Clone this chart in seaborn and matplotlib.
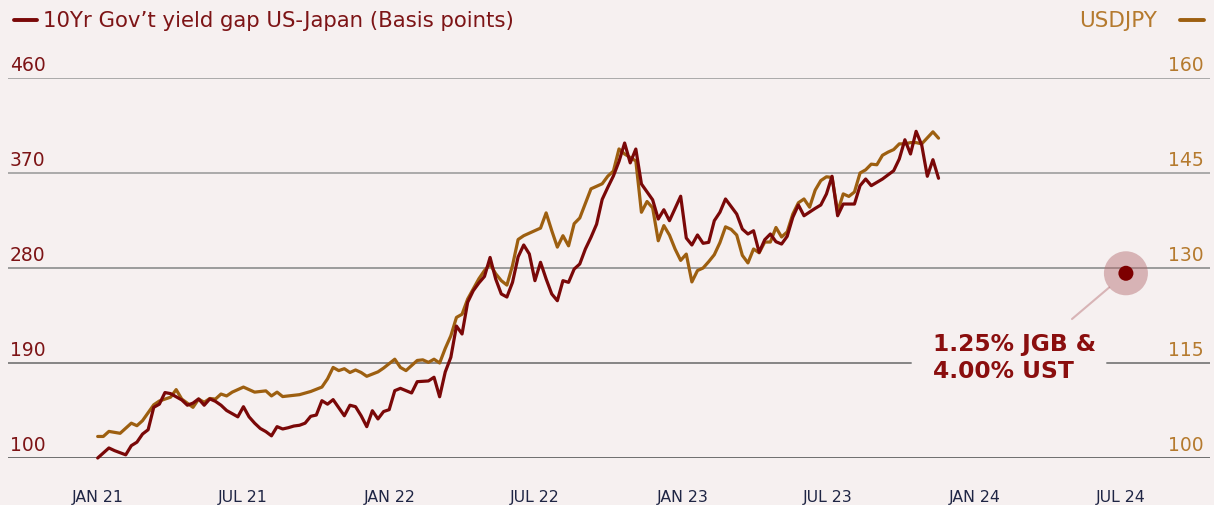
import numpy as np
import pandas as pd
import matplotlib
matplotlib.use("Agg")
import matplotlib.pyplot as plt
from matplotlib.lines import Line2D
from matplotlib.transforms import blended_transform_factory
import seaborn as sns

# ---- data -------------------------------------------------------------
# weekly observations (Fridays), Jan 2021 - Nov 2023; None = no reading
week_dates = pd.date_range("2021-01-01", periods=151, freq="7D")

yield_gap = [
    100, None, 109.5, 107, None, 103, 111.7, 115, 122.7, 126.8,
    148, 151, 162, 161, 158, 155, 150, 152, 156, 150,
    156, 153.7, 150, 145, None, 139, 148.6, 139, 133, 128,
    125, 121, 129.7, 127.5, 128.7, 130.3, 131, 133, 139.5, 140.7,
    154.3, 151, 155.3, 147.7, 140, 150, 148.6, 140, 129.7, 144.8,
    137, 144, 145.8, 163.8, 166, None, 161.6, 172.3, None, 173,
    176.5, 158, 181.5, 195.4, 225, 217.5, 247.5, 258.5, 265.8, 272,
    290, 269.6, 255.4, 252.5, 266.4, 290.5, 301.8, 293.3, 268, 285.4,
    269.6, 255.4, 249, 268, 266.4, 279, 283.8, 298, 309.1, 321.5,
    345, 356.4, 367.2, 381, 398.4, 379.6, 392.7, 359.6, None, 344.6,
    326.4, 335.2, 324.8, None, 348, 308.4, 301.8, 311.3, 303.4, 304.3,
    324.8, 332.8, 345.4, None, 331.1, 316.9, 312.2, 315.3, 294.9, 306.8,
    312.2, 304.9, 302.7, 310, 328, 339.7, 329.5, None, 336.5, 339.7,
    350.1, 366.9, 329.5, 340.6, None, 340.6, 358, 364.3, 358, None,
    364.3, None, 372.2, 383.3, 401.5, 388, 409.5, 396.5, 366.9, 382.6, 365,
]

usdjpy = [
    103.4, 103.4, 104.2, None, 103.9, None, 105.5, 105.1, 105.9, None,
    108.4, 109, None, 109.6, 110.8, 109.3, None, 108, 109.3, 108.8,
    109.4, 109.3, 110.1, 109.8, 110.4, None, 111.2, None, 110.4, None,
    110.6, 109.8, 110.4, 109.7, 109.8, None, 110, None, 110.5, None,
    111.2, 112.5, 114.3, 113.8, 114.1, 113.5, 113.9, 113.5, 112.9, None,
    113.6, 114.2, None, 115.6, 114.3, 113.8, None, 115.4, 115.5, 115.1,
    115.6, 115, 117.3, 119.3, 122.2, 122.7, 125.1, 126.7, 128.3, 129.6,
    130.6, 129.1, 128, 127.3, 130.4, 134.5, 135.1, 135.5, None, 136.3,
    138.7, 135.9, 133.3, 135.1, 133.5, 137, 137.9, None, 142.5, None,
    143.3, 144.5, 145.3, 148.8, 148, None, 146.9, 138.8, 140.5, 139.5,
    134.3, 136.7, 135.2, 133, 131.2, 132.2, 127.8, 129.6, 130, 131,
    132.1, 134, 136.5, 136.1, 135.2, 132, 130.8, 133, 132.4, 134.1,
    134.1, 136.4, 134.9, 135.7, 138.5, 140.3, 140.9, 139.6, 142.3, 143.8,
    144.4, 144.3, 138.9, 141.7, 141.3, 142, 145, 145.5, 146.4, 146.3,
    147.8, 148.3, 148.7, 149.6, 149.6, 149.8, 149.8, 149.6, None, 151.5, 150.5,
]

gap_ticks = [100, 190, 280, 370, 460]
jpy_ticks = [100, 115, 130, 145, 160]
month_ticks = ["2021-01-01", "2021-07-01", "2022-01-01", "2022-07-01",
               "2023-01-01", "2023-07-01", "2024-01-01", "2024-07-01"]
month_labels = ["JAN 21", "JUL 21", "JAN 22", "JUL 22",
                "JAN 23", "JUL 23", "JAN 24", "JUL 24"]

# highlighted scenario: JGB vs UST 10yr yields
marker_date = "2024-07-08"
jgb_yield = 1.25
ust_yield = 4.00
marker_gap = (ust_yield - jgb_yield) * 100

# ---- style ------------------------------------------------------------
BG = "#f6f0f0"
RED = "#7a0808"
ORANGE = "#9d5f10"
RED_TEXT = "#7d1416"
ORANGE_TEXT = "#b57a2e"
NAVY = "#1f2544"

sns.set_theme(style="white")
plt.rcParams["font.family"] = ["DejaVu Sans"]

W, H = 1214, 506
fig = plt.figure(figsize=(W / 100, H / 100), dpi=100, facecolor=BG)
ax_jpy = fig.add_axes([8 / W, 47 / H, 1202 / W, 380 / H])
ax_jpy.set_facecolor(BG)
ax_gap = ax_jpy.twinx()

df = pd.DataFrame({
    "date": week_dates,
    "gap": pd.Series(yield_gap, dtype=float),
    "jpy": pd.Series(usdjpy, dtype=float),
})

sns.lineplot(data=df.dropna(subset=["jpy"]), x="date", y="jpy", ax=ax_jpy,
             color=ORANGE, linewidth=2.3, errorbar=None, clip_on=False, zorder=3)
sns.lineplot(data=df.dropna(subset=["gap"]), x="date", y="gap", ax=ax_gap,
             color=RED, linewidth=2.3, errorbar=None, clip_on=False, zorder=3)

ax_jpy.set_ylim(100, 160)
ax_gap.set_ylim(100, 460)
ax_jpy.set_xlim(pd.Timestamp("2020-09-11"), pd.Timestamp("2024-10-21"))

for a in (ax_jpy, ax_gap):
    a.set_xlabel("")
    a.set_ylabel("")
    a.set_yticks([])
    for s in a.spines.values():
        s.set_visible(False)

ax_jpy.set_xticks(pd.to_datetime(month_ticks))
ax_jpy.set_xticklabels(month_labels, fontsize=11.3, color=NAVY)
ax_jpy.tick_params(axis="x", length=0, pad=22)

# horizontal guides
grid_colors = {160: "#aaaaaa", 145: "#aaaaaa", 130: "#9b9b9b",
               115: "#858585", 100: "#6e6e6e"}
for v in jpy_ticks:
    if v == 115:
        ax_jpy.axhline(v, xmin=0, xmax=0.7512, color=grid_colors[v], lw=1.4, zorder=1)
        ax_jpy.axhline(v, xmin=0.9143, xmax=1, color=grid_colors[v], lw=1.4, zorder=1)
    else:
        ax_jpy.axhline(v, color=grid_colors[v], lw=1.4, zorder=1)

# axis value labels sitting on the guides
tr_left = blended_transform_factory(ax_gap.transAxes, ax_gap.transData)
for v in gap_ticks:
    ax_gap.annotate(f"{v}", xy=(0, v), xycoords=tr_left, xytext=(2, 8),
                    textcoords="offset pixels", ha="left", va="baseline",
                    fontsize=13.5, color=RED_TEXT, annotation_clip=False)
tr_right = blended_transform_factory(ax_jpy.transAxes, ax_jpy.transData)
for v in jpy_ticks:
    ax_jpy.annotate(f"{v}", xy=(1, v), xycoords=tr_right, xytext=(-6, 8),
                    textcoords="offset pixels", ha="right", va="baseline",
                    fontsize=13.5, color=ORANGE_TEXT, annotation_clip=False)

# legend row
fig.add_artist(Line2D([14 / W, 37 / W], [1 - 21 / H] * 2, color=RED, lw=2.8,
                      solid_capstyle="round", transform=fig.transFigure))
fig.text(43 / W, 1 - 27 / H, "10Yr Gov\u2019t yield gap US-Japan (Basis points)",
         fontsize=15.3, color=RED_TEXT, ha="left", va="baseline")
fig.text(1157 / W, 1 - 27 / H, "USDJPY", fontsize=15.5, color=ORANGE_TEXT,
         ha="right", va="baseline")
fig.add_artist(Line2D([1180 / W, 1204 / W], [1 - 21 / H] * 2, color=ORANGE, lw=2.8,
                      solid_capstyle="round", transform=fig.transFigure))

# scenario marker
mx = pd.Timestamp(marker_date)
ax_gap.scatter([mx], [marker_gap], s=1004, color="#b26a6e", alpha=0.45,
               edgecolors="none", zorder=5, clip_on=False)
ax_gap.scatter([mx], [marker_gap], s=117, color="#7d0000",
               edgecolors="none", zorder=6, clip_on=False)
ax_gap.annotate("", xy=(mx, marker_gap), xycoords="data",
                xytext=(0.8852, 0.3658), textcoords="axes fraction",
                arrowprops=dict(arrowstyle="-", color="#d8b4b6", lw=1.5,
                                shrinkA=0, shrinkB=15.8))
ax_gap.text(0.7696, 0.3316, f"{jgb_yield:.2f}% JGB &\n{ust_yield:.2f}% UST",
            transform=ax_gap.transAxes, ha="left", va="top", fontsize=16.8,
            fontweight="bold", color="#8a0e0e", linespacing=1.2)

fig.savefig("out.png", dpi=100, facecolor=BG)
